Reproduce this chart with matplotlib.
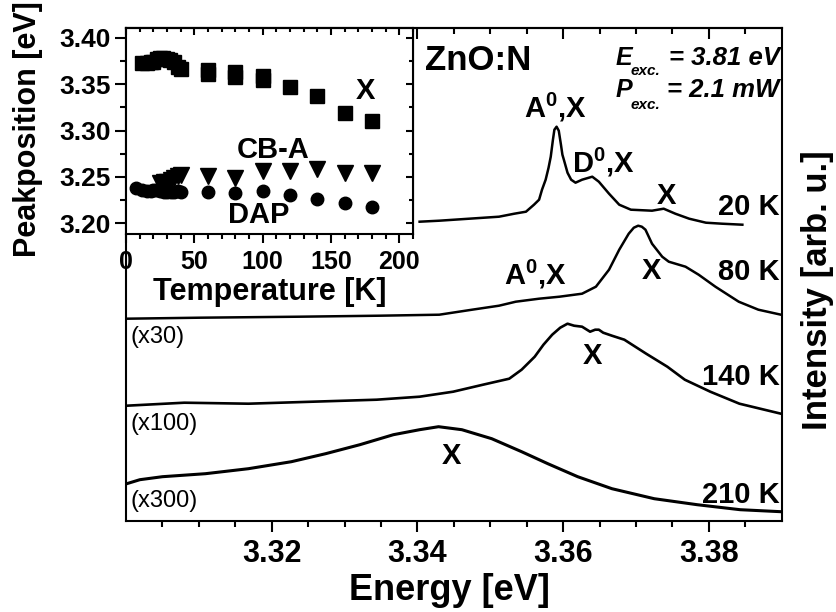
import matplotlib
matplotlib.use('Agg')
import matplotlib.pyplot as plt
from matplotlib.ticker import FixedLocator, MultipleLocator

plt.rcParams['font.family'] = ['Liberation Sans', 'DejaVu Sans']
plt.rcParams['mathtext.fontset'] = 'custom'
plt.rcParams['mathtext.rm'] = 'Liberation Sans:bold'
plt.rcParams['mathtext.bf'] = 'Liberation Sans:bold'
plt.rcParams['mathtext.it'] = 'Liberation Sans:bold:italic'

# ---------------- main spectra (Energy [eV], Intensity [arb. u.], offset) ----------------
E_20K = [3.3403, 3.3430, 3.3471, 3.3512, 3.3533, 3.3549, 3.3560, 3.3567, 3.3571, 3.3576,
         3.3580, 3.3583, 3.3586, 3.3588, 3.3591, 3.3594, 3.3597, 3.3599, 3.3601, 3.3606,
         3.3611, 3.3617, 3.3626, 3.3640, 3.3649, 3.3663, 3.3677, 3.3693, 3.3722, 3.3738,
         3.3754, 3.3773, 3.3796, 3.3818, 3.3846]
I_20K = [29.9, 30.0, 30.2, 30.4, 30.7, 30.9, 31.6, 32.1, 33.1, 34.1,
         35.3, 36.4, 38.1, 39.1, 39.4, 39.0, 37.6, 36.6, 36.1, 34.8,
         34.1, 33.8, 34.1, 34.4, 33.9, 32.7, 31.6, 31.1, 31.0, 31.2,
         30.7, 30.2, 29.8, 29.7, 29.6]

E_80K = [3.3001, 3.3101, 3.3238, 3.3348, 3.3430, 3.3475, 3.3512, 3.3535, 3.3567, 3.3595,
         3.3626, 3.3645, 3.3663, 3.3677, 3.3690, 3.3697, 3.3703, 3.3708, 3.3713, 3.3722,
         3.3736, 3.3745, 3.3768, 3.3786, 3.3809, 3.3841, 3.3868, 3.3899]
I_80K = [20.2, 20.3, 20.4, 20.5, 20.6, 21.1, 21.5, 21.9, 22.2, 22.4,
         22.7, 23.4, 25.1, 27.1, 28.7, 29.3, 29.5, 29.4, 29.1, 27.7,
         26.4, 25.9, 25.4, 24.6, 23.4, 21.9, 21.1, 20.6]

E_140K = [3.3001, 3.3080, 3.3168, 3.3256, 3.3344, 3.3403, 3.3449, 3.3490, 3.3526, 3.3543,
          3.3561, 3.3573, 3.3585, 3.3596, 3.3606, 3.3615, 3.3626, 3.3637, 3.3644, 3.3649,
          3.3655, 3.3667, 3.3684, 3.3714, 3.3743, 3.3767, 3.3802, 3.3842, 3.3899]
I_140K = [11.5, 11.8, 11.7, 11.9, 12.1, 12.4, 12.9, 13.6, 14.2, 15.1,
          16.4, 17.6, 18.6, 19.3, 19.7, 19.5, 19.4, 18.9, 19.1, 19.1,
          18.8, 18.5, 18.1, 16.7, 15.4, 14.1, 12.9, 11.7, 10.7]

E_210K = [3.3001, 3.3019, 3.3050, 3.3109, 3.3168, 3.3227, 3.3274, 3.3321, 3.3367, 3.3403,
          3.3429, 3.3461, 3.3502, 3.3543, 3.3579, 3.3620, 3.3667, 3.3725, 3.3784, 3.3843,
          3.3899]
I_210K = [3.7, 4.1, 4.4, 4.7, 5.2, 5.9, 6.7, 7.6, 8.6, 9.1,
          9.4, 9.1, 8.2, 6.9, 5.7, 4.4, 3.2, 2.2, 1.6, 1.1,
          0.9]

energy_ticks = [3.32, 3.34, 3.36, 3.38]
energy_tick_labels = ['3.32', '3.34', '3.36', '3.38']
energy_minor = [3.305, 3.31, 3.315, 3.325, 3.33, 3.335, 3.345, 3.35, 3.355,
                3.365, 3.37, 3.375, 3.385]

# ---------------- inset: peak position vs temperature ----------------
T_X = [12, 15, 18, 20, 23, 25, 27, 30, 32, 35, 38, 40, 60, 60, 80, 80, 100, 100,
       120, 140, 160, 180]
E_X = [3.373, 3.373, 3.374, 3.374, 3.377, 3.378, 3.378, 3.377, 3.376, 3.374, 3.369,
       3.366, 3.365, 3.361, 3.363, 3.358, 3.359, 3.354, 3.3465, 3.3375, 3.3185, 3.3105]

T_CB = [25, 28, 30, 33, 35, 38, 40, 60, 80, 100, 120, 140, 160, 180]
E_CB = [3.243, 3.244, 3.245, 3.247, 3.249, 3.251, 3.252, 3.2515, 3.249, 3.2565,
        3.256, 3.2585, 3.2545, 3.2545]

T_DAP = [7, 12, 15, 18, 20, 22, 25, 28, 30, 33, 35, 38, 40, 60, 80, 100, 120, 140, 160, 180]
E_DAP = [3.238, 3.236, 3.235, 3.235, 3.236, 3.236, 3.235, 3.234, 3.234, 3.234, 3.234,
         3.235, 3.234, 3.234, 3.233, 3.2345, 3.2305, 3.2262, 3.2223, 3.2173]

temp_ticks = [0, 50, 100, 150, 200]
temp_tick_labels = ['0', '50', '100', '150', '200']
peak_ticks = [3.20, 3.25, 3.30, 3.35, 3.40]
peak_tick_labels = ['3.20', '3.25', '3.30', '3.35', '3.40']

fig = plt.figure(figsize=(8.37, 6.12), dpi=100)

# ---------------- main axes ----------------
ax = fig.add_axes([0.15054, 0.14918, 0.78339, 0.80556])
for E, I, w in [(E_20K, I_20K, 1.8), (E_80K, I_80K, 1.8), (E_140K, I_140K, 1.9), (E_210K, I_210K, 2.2)]:
    ax.plot(E, I, color='black', lw=w, solid_joinstyle='round')
ax.set_xlim(3.30, 3.39)
ax.set_ylim(0, 49.3)
ax.set_yticks([])
ax.set_xticks(energy_ticks)
ax.set_xticklabels(energy_tick_labels, fontsize=22, fontweight='bold')
ax.xaxis.set_minor_locator(FixedLocator(energy_minor))
ax.tick_params(axis='x', which='major', direction='out', length=8, width=1.5, pad=5)
ax.tick_params(axis='x', which='minor', direction='out', length=4.5, width=1.5)
for s in ax.spines.values():
    s.set_linewidth(1.5)
top = ax.secondary_xaxis('top')
top.set_xticks(energy_ticks)
top.xaxis.set_minor_locator(FixedLocator(energy_minor))
top.tick_params(axis='x', which='major', direction='in', length=8, width=1.5, labeltop=False)
top.tick_params(axis='x', which='minor', direction='in', length=4.5, width=1.5)
top.spines['top'].set_linewidth(1.5)

fig.text(0.5365, 0.0196, 'Energy [eV]', fontsize=26, fontweight='bold',
         ha='center', va='baseline')
fig.text(0.977, 0.526, 'Intensity [arb. u.]', fontsize=25, fontweight='bold',
         rotation=90, ha='center', va='center')

# temperature labels
for lbl, yb in [('20 K', 30.6), ('80 K', 24.1), ('140 K', 13.6), ('210 K', 1.75)]:
    ax.text(0.997, yb, lbl, transform=ax.get_yaxis_transform(), fontsize=21,
            fontweight='bold', ha='right', va='baseline')
# multipliers
for lbl, yb in [('(x30)', 17.8), ('(x100)', 9.1), ('(x300)', 1.4)]:
    ax.text(3.3006, yb, lbl, fontsize=17, ha='left', va='baseline')
# peak labels
ax.text(3.3589, 40.3, r'A$^{\mathbf{0}}$,X', fontsize=21, fontweight='bold', ha='center', va='baseline')
ax.text(3.3612, 34.8, r'D$^{\mathbf{0}}$,X', fontsize=21, fontweight='bold', ha='left', va='baseline')
ax.text(3.3742, 31.7, 'X', fontsize=21, fontweight='bold', ha='center', va='baseline')
ax.text(3.3519, 23.6, r'A$^{\mathbf{0}}$,X', fontsize=21, fontweight='bold', ha='left', va='baseline')
ax.text(3.3721, 24.2, 'X', fontsize=21, fontweight='bold', ha='center', va='baseline')
ax.text(3.3640, 15.7, 'X', fontsize=21, fontweight='bold', ha='center', va='baseline')
ax.text(3.3447, 5.7, 'X', fontsize=21, fontweight='bold', ha='center', va='baseline')

ax.text(3.3410, 45.1, 'ZnO:N', fontsize=25, fontweight='bold', ha='left', va='baseline')
ax.text(3.3672, 45.6, 'E', fontsize=18, fontweight='bold', style='italic', ha='left', va='baseline')
ax.text(3.3693, 44.6, 'exc.', fontsize=11, fontweight='bold', style='italic', ha='left', va='baseline')
ax.text(0.997, 45.6, '= 3.81 eV', transform=ax.get_yaxis_transform(), fontsize=18.5,
        fontweight='bold', style='italic', ha='right', va='baseline')
ax.text(3.3672, 42.35, 'P', fontsize=18, fontweight='bold', style='italic', ha='left', va='baseline')
ax.text(3.3693, 41.2, 'exc.', fontsize=11, fontweight='bold', style='italic', ha='left', va='baseline')
ax.text(0.997, 42.35, '= 2.1 mW', transform=ax.get_yaxis_transform(), fontsize=18.5,
        fontweight='bold', style='italic', ha='right', va='baseline')

# ---------------- inset ----------------
ins = fig.add_axes([0.15054, 0.61765, 0.34289, 0.33660])
ins.set_facecolor('white')
ins.plot(T_X, E_X, 's', color='black', ms=10, lw=0)
ins.plot(T_CB, E_CB, 'v', color='black', ms=11, lw=0)
ins.plot(T_DAP, E_DAP, 'o', color='black', ms=9, lw=0)
ins.set_xlim(0, 210)
ins.set_ylim(3.1885, 3.4105)
ins.set_xticks(temp_ticks)
ins.set_xticklabels(temp_tick_labels, fontsize=18, fontweight='bold')
ins.set_yticks(peak_ticks)
ins.set_yticklabels(peak_tick_labels, fontsize=19, fontweight='bold')
ins.xaxis.set_minor_locator(MultipleLocator(10))
ins.yaxis.set_minor_locator(MultipleLocator(0.025))
ins.tick_params(axis='x', which='major', direction='out', length=6.5, width=1.5, pad=5)
ins.tick_params(axis='x', which='minor', direction='out', length=3.5, width=1.5)
ins.tick_params(axis='y', which='major', direction='out', length=8, width=1.5, pad=3)
ins.tick_params(axis='y', which='minor', direction='out', length=4, width=1.5)
for s in ins.spines.values():
    s.set_linewidth(1.5)
itop = ins.secondary_xaxis('top')
itop.set_xticks(temp_ticks)
itop.xaxis.set_minor_locator(MultipleLocator(10))
itop.tick_params(which='major', direction='in', length=5, width=1.5, labeltop=False)
itop.tick_params(which='minor', direction='in', length=3, width=1.5)
irt = ins.secondary_yaxis('right')
irt.set_yticks(peak_ticks)
irt.yaxis.set_minor_locator(MultipleLocator(0.025))
irt.tick_params(which='major', direction='in', length=5, width=1.5, labelright=False)
irt.tick_params(which='minor', direction='in', length=3, width=1.5)

ins.text(175, 3.343, 'X', fontsize=21, fontweight='bold', ha='center', va='center')
ins.text(108, 3.279, 'CB-A', fontsize=21, fontweight='bold', ha='center', va='center')
ins.text(97, 3.209, 'DAP', fontsize=21, fontweight='bold', ha='center', va='center')

fig.text(0.3226, 0.5098, 'Temperature [K]', fontsize=22, fontweight='bold',
         ha='center', va='baseline')
fig.text(0.0335, 0.789, 'Peakposition [eV]', fontsize=22, fontweight='bold',
         rotation=90, ha='center', va='center')

fig.savefig('out.png', dpi=100)
